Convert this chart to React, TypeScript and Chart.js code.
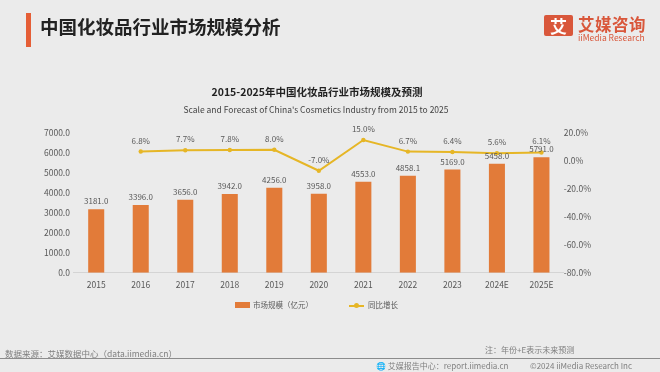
import React, { useEffect, useRef } from "react";
import { Chart, registerables } from "chart.js";

Chart.register(...registerables);

const years = ["2015", "2016", "2017", "2018", "2019", "2020", "2021", "2022", "2023", "2024E", "2025E"];
const marketSize = [3181.0, 3396.0, 3656.0, 3942.0, 4256.0, 3958.0, 4553.0, 4858.1, 5169.0, 5458.0, 5791.0];
const growthRate = [null, 6.8, 7.7, 7.8, 8.0, -7.0, 15.0, 6.7, 6.4, 5.6, 6.1];

const FONT = '"Noto Sans CJK SC", "Noto Sans", sans-serif';
const BAR_COLOR = "#E27B39";
const LINE_COLOR = "#E6B626";
const TEXT = "#595959";

const valueLabels = {
  id: "valueLabels",
  afterDatasetsDraw(chart: any) {
    const ctx = chart.ctx;
    ctx.save();
    ctx.font = `8px ${FONT}`;
    ctx.fillStyle = TEXT;
    ctx.textAlign = "center";
    ctx.textBaseline = "middle";
    chart.data.datasets.forEach((ds: any, i: number) => {
      const meta = chart.getDatasetMeta(i);
      meta.data.forEach((el: any, j: number) => {
        const v = ds.data[j];
        if (v === null || v === undefined) return;
        if (ds.type === "line") {
          ctx.fillText(v.toFixed(1) + "%", el.x, el.y - 11);
        } else {
          ctx.fillText(v.toFixed(1), el.x, el.y - 8);
        }
      });
    });
    ctx.restore();
  },
};

function ChartCanvas() {
  const ref = useRef<HTMLCanvasElement>(null);
  useEffect(() => {
    if (!ref.current) return;
    const chart = new Chart(ref.current, {
      type: "bar",
      data: {
        labels: years,
        datasets: [
          {
            type: "line",
            label: "同比增长",
            data: growthRate as any,
            yAxisID: "y1",
            borderColor: LINE_COLOR,
            backgroundColor: LINE_COLOR,
            borderWidth: 2,
            pointRadius: 2.2,
            pointBackgroundColor: LINE_COLOR,
            pointBorderWidth: 0,
            tension: 0,
            spanGaps: false,
            order: 0,
          } as any,
          {
            type: "bar",
            label: "市场规模（亿元）",
            data: marketSize,
            yAxisID: "y",
            backgroundColor: BAR_COLOR,
            barPercentage: 0.36,
            categoryPercentage: 1,
            order: 1,
          } as any,
        ],
      },
      options: {
        responsive: false,
        animation: false,
        layout: { padding: { top: 133, left: 40, right: 69, bottom: 75 } },
        plugins: {
          legend: { display: false },
          tooltip: { enabled: false },
          title: { display: false },
        },
        scales: {
          x: {
            grid: { display: false, drawTicks: false },
            border: { display: true, color: "#D4D4D4", width: 1 },
            ticks: { color: TEXT, font: { family: FONT, size: 8.5 }, padding: 7, maxRotation: 0, autoSkip: false },
          },
          y: {
            position: "left",
            min: 0,
            max: 7000,
            grid: { display: false, drawTicks: false },
            border: { display: false },
            ticks: {
              stepSize: 1000,
              color: TEXT,
              font: { family: FONT, size: 8.5 },
              padding: 4,
              callback: (v: any) => Number(v).toFixed(1),
            },
          },
          y1: {
            position: "right",
            min: -80,
            max: 20,
            grid: { display: false, drawTicks: false },
            border: { display: false },
            ticks: {
              stepSize: 20,
              color: TEXT,
              font: { family: FONT, size: 8.5 },
              padding: 0,
              callback: (v: any) => Number(v).toFixed(1) + "%",
            },
          },
        },
      },
      plugins: [valueLabels],
    });
    return () => chart.destroy();
  }, []);
  return <canvas ref={ref} width={660} height={372} style={{ position: "absolute", left: 0, top: 0, width: 660, height: 372 }} />;
}

function LineMarker() {
  return (
    <span style={{ position: "relative", display: "inline-block", width: 15, height: 7, marginRight: 4 }}>
      <span style={{ position: "absolute", left: 0, top: 3, width: 15, height: 2, background: LINE_COLOR }} />
      <span style={{ position: "absolute", left: 5, top: 1.5, width: 5, height: 5, borderRadius: 3, background: LINE_COLOR }} />
    </span>
  );
}

export default function App() {
  const abs = (s: any) => ({ position: "absolute", ...s } as React.CSSProperties);
  return (
    <div style={{ position: "fixed", left: 0, top: 0, width: 660, height: 372, background: "#EBEBEB", fontFamily: FONT, overflow: "hidden" }}>
      <ChartCanvas />
      <div style={abs({ left: 26, top: 13, width: 5, height: 34, background: "#E55E36" })} />
      <div style={abs({ left: 40, top: 16, fontSize: 18.5, lineHeight: "20px", fontWeight: 700, color: "#222" })}>中国化妆品行业市场规模分析</div>

      <div style={abs({ left: 544, top: 15, width: 29, height: 21, borderRadius: 2, background: "#D9573B", color: "#fff", fontSize: 17, lineHeight: "21px", fontWeight: 700, textAlign: "center" })}>艾</div>
      <div style={abs({ left: 578, top: 15, fontSize: 16.5, lineHeight: "18px", fontWeight: 700, color: "#D9573B", letterSpacing: 0.5 })}>艾媒咨询</div>
      <div style={abs({ left: 578, top: 33, fontSize: 8.5, lineHeight: "9px", color: "#D9573B" })}>iiMedia Research</div>

      <div style={abs({ left: 0, width: 634, top: 85, textAlign: "center", fontSize: 10.5, lineHeight: "14px", fontWeight: 700, color: "#222" })}>2015-2025年中国化妆品行业市场规模及预测</div>
      <div style={abs({ left: 0, width: 632, top: 103, textAlign: "center", fontSize: 8.5, lineHeight: "12px", color: "#444" })}>Scale and Forecast of China's Cosmetics Industry from 2015 to 2025</div>

      <div style={abs({ left: 235, top: 299, display: "flex", alignItems: "center", fontSize: 7.5, lineHeight: "12px", color: TEXT })}>
        <span style={{ display: "inline-block", width: 15, height: 6, background: BAR_COLOR, marginRight: 3 }} />
        <span>市场规模（亿元）</span>
        <span style={{ width: 36 }} />
        <LineMarker />
        <span>同比增长</span>
      </div>

      <div style={abs({ left: 5, top: 347, fontSize: 8.5, lineHeight: "12px", color: "#7F7F7F" })}>数据来源：艾媒数据中心（data.iimedia.cn）</div>
      <div style={abs({ left: 485, top: 344, fontSize: 8, lineHeight: "12px", color: "#7F7F7F" })}>注：年份+E表示未来预测</div>
      <div style={abs({ left: 0, top: 358, width: 660, height: 1, background: "#8C8C8C" })} />
      <div style={abs({ left: 376, top: 360, fontSize: 8, lineHeight: "12px", color: "#7F7F7F" })}>🌐 艾媒报告中心：report.iimedia.cn</div>
      <div style={abs({ left: 530, top: 360, fontSize: 8, lineHeight: "12px", color: "#7F7F7F" })}>©2024 iiMedia Research Inc</div>
    </div>
  );
}
